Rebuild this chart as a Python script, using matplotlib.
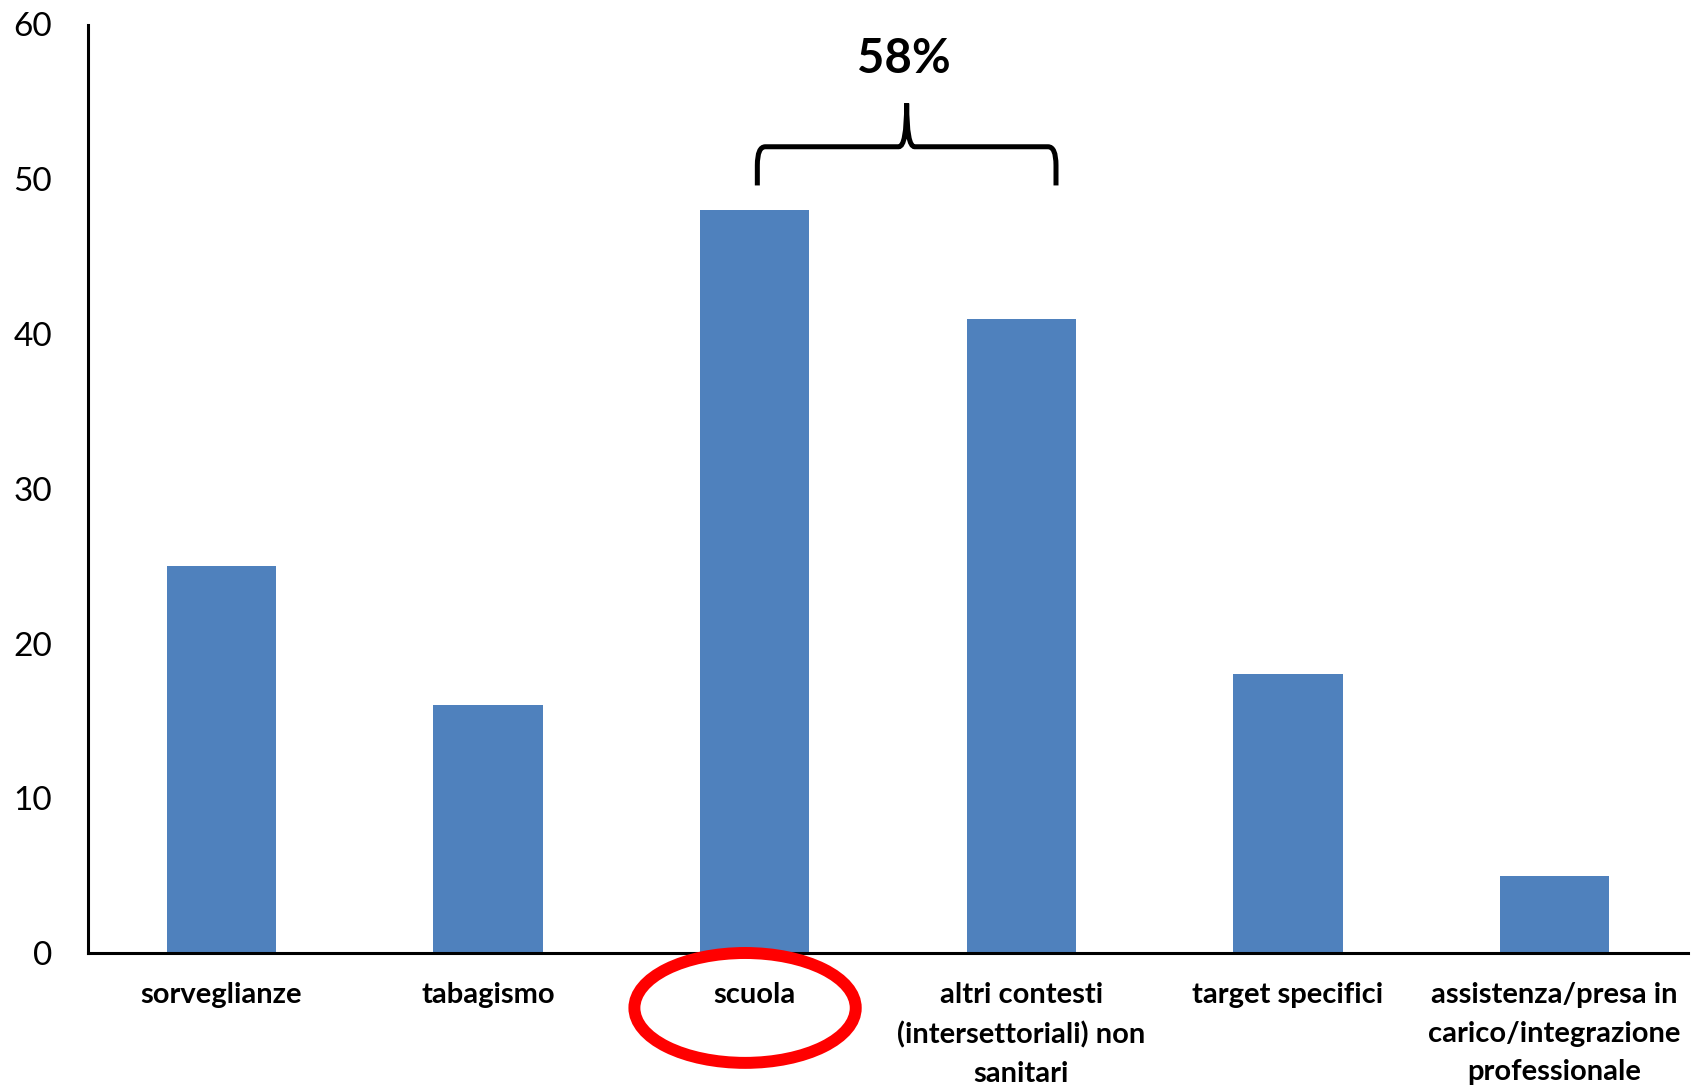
import matplotlib
matplotlib.use("Agg")
import matplotlib.pyplot as plt
from matplotlib.patches import Ellipse, PathPatch
from matplotlib.path import Path

plt.rcParams['font.family'] = ['Lato', 'DejaVu Sans']

# data
categories = ["sorveglianze", "tabagismo", "scuola",
              "altri contesti\n(intersettoriali) non\nsanitari",
              "target specifici",
              "assistenza/presa in\ncarico/integrazione\nprofessionale"]
values = [25, 16, 48, 41, 18, 5]
yticks = [0, 10, 20, 30, 40, 50, 60]

bar_color = "#4F81BD"

fig = plt.figure(figsize=(16.92, 10.87), dpi=100)
ax = fig.add_axes([88 / 1692, 134 / 1087, 1600 / 1692, 928.5 / 1087])

x = list(range(len(categories)))
ax.bar(x, values, width=0.41, color=bar_color, zorder=2)

ax.set_xlim(-0.5, len(categories) - 0.5)
ax.set_ylim(0, 60)
ax.set_yticks(yticks)
ax.set_yticklabels([str(t) for t in yticks], fontsize=24)
ax.set_xticks(x)
ax.set_xticklabels(categories, fontsize=21, fontweight='bold', linespacing=1.6)
ax.tick_params(axis='y', length=0, pad=26)
ax.tick_params(axis='x', length=0, pad=21)
for s in ['top', 'right']:
    ax.spines[s].set_visible(False)
for s in ['left', 'bottom']:
    ax.spines[s].set_linewidth(2.2)
    ax.spines[s].set_color('black')

# brace over scuola + altri contesti
share = (values[2] + values[3]) / sum(values) * 100
x0, x1 = 2.01, 3.13
xm = (x0 + x1) / 2
yb, yh, ytip = 49.6, 52.1, 54.9
rx, ry = 0.03, 1.2
verts = [(x0, yb), (x0, yh - ry), (x0, yh), (x0 + rx, yh),
         (xm - rx, yh), (xm, yh), (xm, ytip),
         (xm, yh), (xm + rx, yh),
         (x1 - rx, yh), (x1, yh), (x1, yh - ry), (x1, yb)]
codes = [Path.MOVETO, Path.LINETO, Path.CURVE3, Path.CURVE3,
         Path.LINETO, Path.CURVE3, Path.CURVE3,
         Path.CURVE3, Path.CURVE3,
         Path.LINETO, Path.CURVE3, Path.CURVE3, Path.LINETO]
ax.add_patch(PathPatch(Path(verts, codes), fill=False, lw=3.6,
                       edgecolor='black', clip_on=False, zorder=3))
ax.text(xm - 0.01, 57.8, f"{share:.0f}%", ha='center', va='center',
        fontsize=34, fontweight='bold')

# red ring around the scuola label
ax.add_patch(Ellipse((1.964, -3.55), 0.83, 7.1, fill=False,
                     edgecolor='#FF0000', lw=8.6, clip_on=False, zorder=4))

fig.savefig("out.png", dpi=100)
